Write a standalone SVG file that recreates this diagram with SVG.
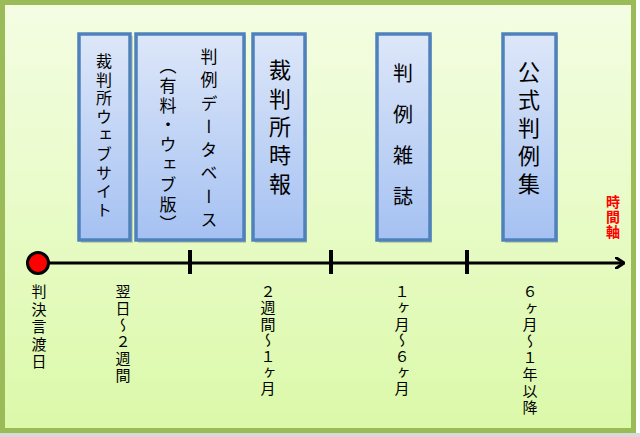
<svg xmlns="http://www.w3.org/2000/svg" width="640" height="437" viewBox="0 0 640 437">
<defs>
<linearGradient id="bg" x1="0" y1="0" x2="0" y2="1">
<stop offset="0" stop-color="#f4fde3"/>
<stop offset="1" stop-color="#dbf9a9"/>
</linearGradient>
<linearGradient id="bx" x1="0" y1="0" x2="0" y2="1">
<stop offset="0" stop-color="#dde7f9"/>
<stop offset="1" stop-color="#a5c1f2"/>
</linearGradient>
<marker id="arr" markerWidth="10" markerHeight="12" refX="9" refY="6" orient="auto" markerUnits="userSpaceOnUse" viewBox="0 0 10 12">
<polyline points="0,0 9,6 0,12" fill="none" stroke="#000" stroke-width="3"/>
</marker>
</defs>
<style>
.box{fill:url(#bx);stroke:#4f81bd;stroke-width:3.5}
.sh{fill:#7a8a6a;opacity:0.35}
.v{font-family:"Noto Sans CJK JP","Noto Sans CJK SC",sans-serif;writing-mode:vertical-rl;fill:#000}
.red{fill:#ff0000;font-weight:bold}
</style>
<rect x="0" y="433" width="640" height="4" fill="#d9d9d9"/>
<rect x="2.5" y="2.5" width="631" height="428" fill="url(#bg)" stroke="#9bbb59" stroke-width="5"/>

<g id="n1">
<rect class="sh" x="81" y="36" width="52" height="207"/>
<rect class="box" x="79" y="34" width="51" height="206"/>
<text class="v" x="104" y="53" font-size="16" letter-spacing="2.6">裁判所ウェブサイト</text>
</g>
<g id="n2">
<rect class="sh" x="138" y="36" width="108" height="207"/>
<rect class="box" x="136" y="34" width="108" height="206"/>
<text class="v" x="209" y="48" font-size="17" letter-spacing="6.3">判例データベース</text>
<text class="v" x="168" y="57" font-size="17" letter-spacing="2.8">（有料・ウェブ版）</text>
</g>
<g id="n3">
<rect class="sh" x="255" y="36" width="52" height="207"/>
<rect class="box" x="253" y="34" width="52" height="206"/>
<text class="v" x="280" y="59" font-size="22" letter-spacing="6.3">裁判所時報</text>
</g>
<g id="n4">
<rect class="sh" x="379" y="36" width="53" height="207"/>
<rect class="box" x="377" y="34" width="53" height="206"/>
<text class="v" x="403" y="63" font-size="20" letter-spacing="21">判例雑誌</text>
</g>
<g id="n5">
<rect class="sh" x="505" y="36" width="53" height="207"/>
<rect class="box" x="503" y="34" width="53" height="206"/>
<text class="v" x="529" y="61" font-size="22" letter-spacing="6">公式判例集</text>
</g>
<g id="axislabel">
<text class="v red" x="613" y="195" font-size="14" letter-spacing="1">時間軸</text>
</g>

<g id="connectors">
<line x1="40" y1="263" x2="624" y2="263" stroke="#000" stroke-width="3" marker-end="url(#arr)"/>
<line x1="190" y1="250" x2="190" y2="274" stroke="#000" stroke-width="4"/>
<line x1="331" y1="250" x2="331" y2="274" stroke="#000" stroke-width="4"/>
<line x1="467" y1="250" x2="467" y2="274" stroke="#000" stroke-width="4"/>
</g>
<g id="start">
<circle cx="38" cy="263" r="10.5" fill="#ff0000" stroke="#000" stroke-width="3"/>
</g>

<g id="labels">
<text class="v" x="39" y="284" font-size="15" letter-spacing="2.5">判決言渡日</text>
<text class="v" x="123" y="284" font-size="15" letter-spacing="1.8">翌日～２週間</text>
<text class="v" x="268" y="284" font-size="15" letter-spacing="1.2">２週間～１ヶ月</text>
<text class="v" x="402" y="284" font-size="15" letter-spacing="1.2">１ヶ月～６ヶ月</text>
<text class="v" x="530" y="284" font-size="15" letter-spacing="1.6">６ヶ月～１年以降</text>
</g>
</svg>
